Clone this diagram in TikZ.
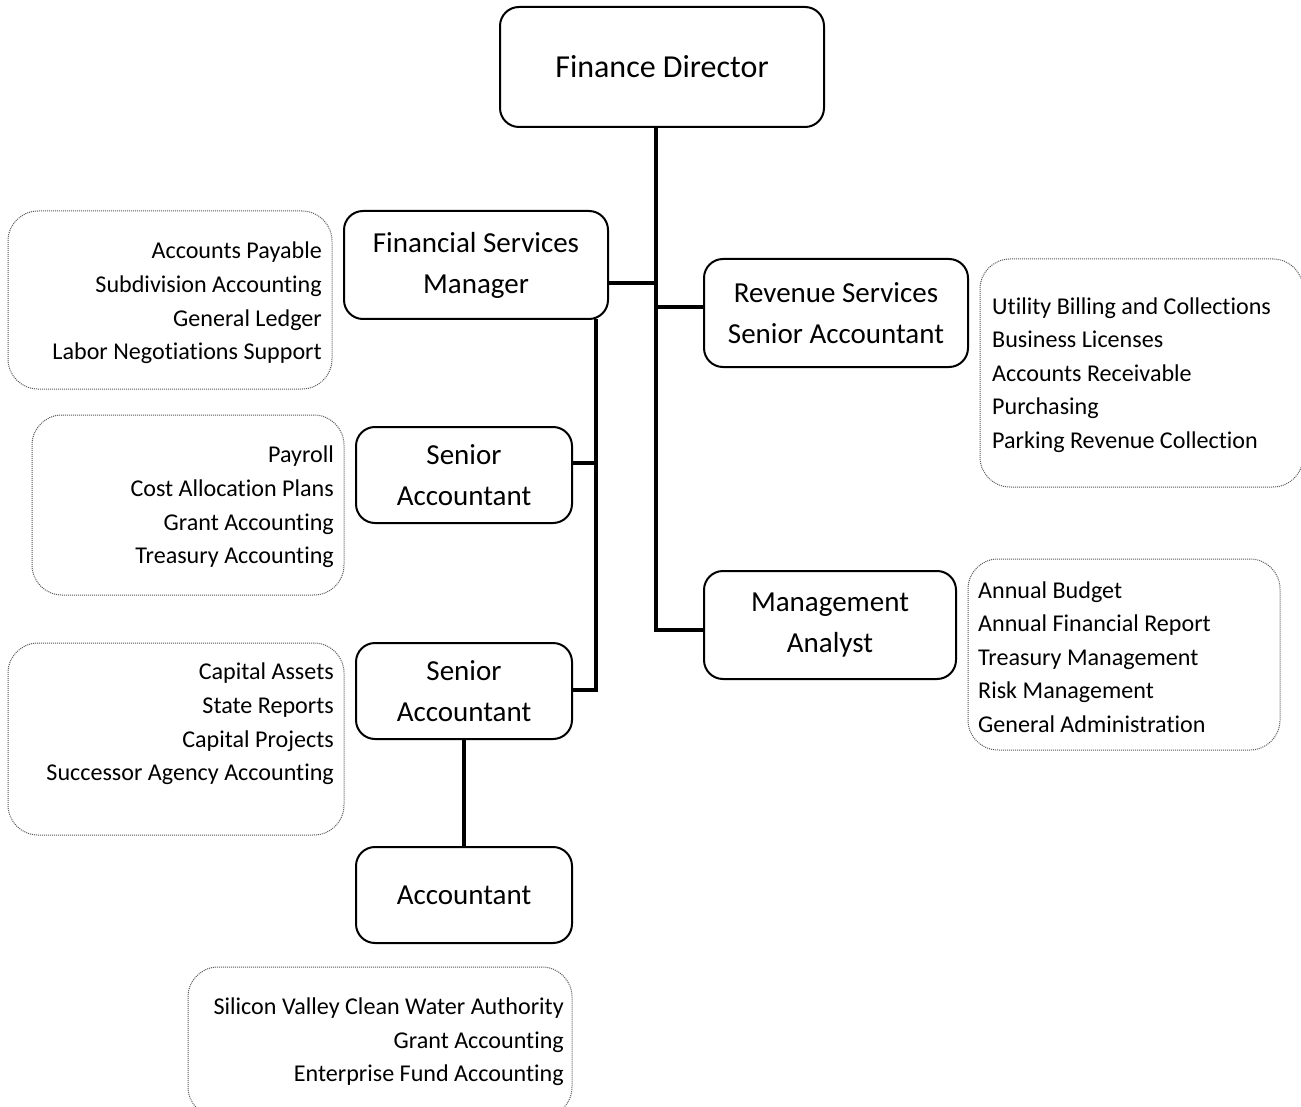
\documentclass[tikz,border=0pt]{standalone}
\usepackage{fontspec}
\setmainfont{Carlito}[Ligatures={NoCommon}]
\usetikzlibrary{calc}
\newcommand\bxfont{\fontsize{29}{41}\selectfont}
\newcommand\fdfont{\fontsize{32}{41}\selectfont}
\newcommand\lstfont{\fontsize{24.1}{33.6}\selectfont}
\tikzset{
  orgbox/.style={draw, line width=2pt, rounded corners=19pt, inner sep=0pt, align=center, font=\bxfont},
  dotbox/.style={draw=black!65, line width=1pt, dash pattern=on 1pt off 1pt, rounded corners=30pt, inner sep=0pt},
  rlist/.style={inner sep=0pt, align=right, font=\lstfont, anchor=east},
  llist/.style={inner sep=0pt, align=left, font=\lstfont, anchor=west},
  conn/.style={line width=4pt}
}
\begin{document}
\begin{tikzpicture}[x=1pt,y=-1pt]
\path[use as bounding box, clip] (0,0) rectangle (1301,1107);
\fill[white] (0,0) rectangle (1301,1107);
% org boxes
\node[orgbox, font=\fdfont, minimum width=324pt, minimum height=120pt] (fd) at (662,67) {Finance Director};
\node[orgbox, minimum width=264pt, minimum height=108pt] (fsm) at (476,265) {Financial Services\\Manager};
\node[orgbox, minimum width=264pt, minimum height=108pt] (rs) at (836,313) {Revenue Services\\Senior Accountant};
\node[orgbox, minimum width=216pt, minimum height=96pt] (sa1) at (464,475) {Senior\\Accountant};
\node[orgbox, minimum width=216pt, minimum height=96pt] (sa2) at (464,691) {Senior\\Accountant};
\node[orgbox, minimum width=252pt, minimum height=108pt] (ma) at (830,625) {Management\\Analyst};
\node[orgbox, minimum width=216pt, minimum height=96pt] (acc) at (464,895) {Accountant};
% dotted boxes
\node[dotbox, minimum width=324pt, minimum height=178pt] (d1) at (170,300) {};
\node[dotbox, minimum width=312pt, minimum height=180pt] (d2) at (188,505) {};
\node[dotbox, minimum width=336pt, minimum height=192pt] (d3) at (176,739) {};
\node[dotbox, minimum width=384pt, minimum height=150pt] (d4) at (380,1042) {};
\node[dotbox, minimum width=323pt, minimum height=228pt] (d5) at (1141.5,373) {};
\node[dotbox, minimum width=312pt, minimum height=191pt] (d6) at (1124,654.5) {};
% list texts
\node[rlist] (t1) at (322,303) {Accounts Payable\\Subdivision Accounting\\General Ledger\\Labor Negotiations Support};
\node[rlist] (t2) at (334,507) {Payroll\\Cost Allocation Plans\\Grant Accounting\\Treasury Accounting};
\node[rlist] (t3) at (334,724) {Capital Assets\\State Reports\\Capital Projects\\Successor Agency Accounting};
\node[rlist] (t4) at (564,1042) {Silicon Valley Clean Water Authority\\Grant Accounting\\Enterprise Fund Accounting};
\node[llist] (t5) at (992,375) {Utility Billing and Collections\\Business Licenses\\Accounts Receivable\\Purchasing\\Parking Revenue Collection};
\node[llist] (t6) at (978,657) {Annual Budget\\Annual Financial Report\\Treasury Management\\Risk Management\\General Administration};
% junction coordinates
\coordinate (jtop) at (656,127);
\coordinate (jfsm) at (656,283);
\coordinate (jrs) at (656,307);
\coordinate (jma) at (656,630);
\coordinate (ltop) at (596,319);
\coordinate (lsa1) at (596,463);
\coordinate (lsa2) at (596,690);
% connectors
\draw[conn] (jtop) -- (jma) -- (ma.west |- jma);
\draw[conn] (fsm.east |- jfsm) -- (jfsm);
\draw[conn] (jrs) -- (rs.west |- jrs);
\draw[conn] (ltop) -- (lsa2) -- (sa2.east |- lsa2);
\draw[conn] (sa1.east |- lsa1) -- (lsa1);
\draw[conn] (sa2.south) -- (acc.north);
\end{tikzpicture}
\end{document}
